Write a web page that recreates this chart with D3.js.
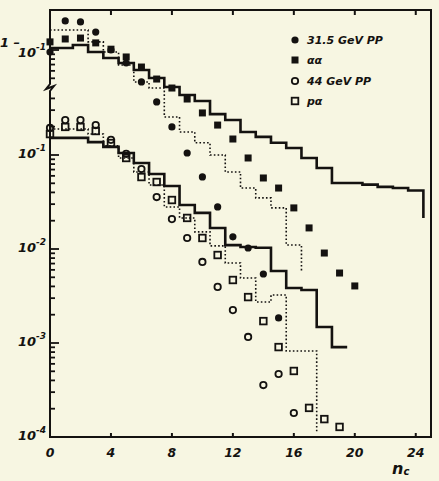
<!DOCTYPE html>
<html><head><meta charset="utf-8">
<script src="https://cdn.jsdelivr.net/npm/d3@7"></script>
<style>body{margin:0;background:#f7f6e2;} svg{display:block}</style>
</head><body><svg id="c" width="439" height="481"></svg>
<script>
// ---- data ----
const xTicks = [0, 4, 8, 12, 16, 20, 24];
const yTickExps = ["-1", "-2", "-3", "-4"];
const legendLabels = ["31.5 GeV PP", "αα", "44 GeV PP", "pα"];

// upper group (own log scale)
const pp315 = [0.095, 0.204, 0.199, 0.155, 0.100, 0.0727, 0.0457, 0.0280, 0.0152, 0.00802, 0.00446, 0.00214, 0.00103, 0.000783, 0.000414, 0.000141];
const aa = [0.122, 0.131, 0.134, 0.119, 0.102, 0.0843, 0.0659, 0.0491, 0.0394, 0.0301, 0.0214, 0.0159, 0.0113, 0.0071, 0.00435, 0.0034, 0.00209, 0.00128, 0.000692, 0.000424, 0.000309];
const upperSolid = [0.105, 0.105, 0.113, 0.0952, 0.0822, 0.0727, 0.0613, 0.0504, 0.0404, 0.0332, 0.0287, 0.0208, 0.018, 0.0134, 0.0119, 0.0103, 0.00906, 0.0071, 0.00556, 0.00385, 0.00385, 0.0037, 0.0035, 0.0034, 0.0032];
const upperSolidEnd = 0.00163;
const upperDotted = [0.163, 0.163, 0.163, 0.122, 0.0952, 0.0692, 0.0457, 0.0394, 0.0194, 0.0134, 0.0103, 0.00763, 0.00504, 0.0034, 0.00267, 0.00209, 0.000843];
const upperDottedEnd = 0.000435;

// lower group
const pp44 = [0.194, 0.235, 0.235, 0.208, 0.145, 0.103, 0.071, 0.0357, 0.0208, 0.0131, 0.00728, 0.00395, 0.00224, 0.00116, 0.000357, 0.000468, 0.00018];
const pa = [0.167, 0.199, 0.199, 0.180, 0.134, 0.0929, 0.0583, 0.0516, 0.0332, 0.0214, 0.0131, 0.00863, 0.00468, 0.00308, 0.00171, 0.000905, 0.000504, 0.000204, 0.000155, 0.000128];
const lowerSolid = [0.152, 0.152, 0.152, 0.137, 0.122, 0.105, 0.0822, 0.0628, 0.0468, 0.0294, 0.0242, 0.0167, 0.011, 0.0105, 0.0103, 0.00583, 0.00385, 0.00366, 0.00148, 0.000905];
const lowerSolidEnd = null;
const lowerDotted = [0.189, 0.189, 0.189, 0.167, 0.125, 0.0929, 0.0659, 0.048, 0.028, 0.0214, 0.0152, 0.0108, 0.0071, 0.00491, 0.00273, 0.00324, 0.000822, 0.000822];
const lowerDottedEnd = 0.000113;

// ---- layout ----
const ink = "#141210";
const bg = "#f7f6e2";
const svg = d3.select("#c");
const L = 50, R = 431, T = 10, B = 437;
const x = d3.scaleLinear().domain([0, 25]).range([L, R]);
const yLow = d3.scaleLog().domain([1e-4, 1]).range([B, B - 4 * 94]);
const yUp = d3.scaleLog().domain([1e-4, 1]).range([50 + 3 * 94, 50 - 94]);
const font = "'DejaVu Sans', sans-serif";

// frame
svg.append("rect").attr("x", L).attr("y", T).attr("width", R - L).attr("height", B - T)
  .attr("fill", "none").attr("stroke", ink).attr("stroke-width", 2);

// x ticks (bottom and top, inward)
xTicks.forEach(t => {
  if (t === 0) return;
  svg.append("line").attr("x1", x(t)).attr("x2", x(t)).attr("y1", B).attr("y2", B - 4)
    .attr("stroke", ink).attr("stroke-width", 2);
  svg.append("line").attr("x1", x(t)).attr("x2", x(t)).attr("y1", T).attr("y2", T + 5)
    .attr("stroke", ink).attr("stroke-width", 2);
});
svg.selectAll(".xl").data(xTicks).join("text")
  .attr("x", d => x(d)).attr("y", 457).attr("text-anchor", "middle")
  .attr("font-family", font).attr("font-weight", "bold").attr("font-style", "italic")
  .attr("font-size", 12.5).attr("fill", ink).text(d => d);

// x axis title
const xt = svg.append("text").attr("x", 392).attr("y", 474)
  .attr("font-family", font).attr("font-style", "italic").attr("font-weight", "bold")
  .attr("font-size", 16).attr("fill", ink).text("n");
xt.append("tspan").attr("font-size", 10).attr("dy", 1).text("c");

// y ticks, lower scale
const lowTicks = [];
for (let e = -4; e <= 0; e++) for (let m = 1; m <= 9; m++) {
  const v = m * Math.pow(10, e);
  if (yLow(v) <= B && yLow(v) >= 94) lowTicks.push([v, m === 1]);
}
lowTicks.forEach(([v, major]) => {
  if (v === 1e-4) return;
  svg.append("line").attr("x1", L).attr("x2", L + (major ? 9 : 5))
    .attr("y1", yLow(v)).attr("y2", yLow(v)).attr("stroke", ink).attr("stroke-width", 1.8);
});
// upper scale ticks (just below 10^-1)
const upTicks = [0.1, 0.09, 0.08, 0.07, 0.06, 0.05];
upTicks.forEach(v => {
  svg.append("line").attr("x1", L).attr("x2", L + (v === 0.1 ? 9 : 5))
    .attr("y1", yUp(v)).attr("y2", yUp(v)).attr("stroke", ink).attr("stroke-width", 1.8);
});

// axis break
svg.append("rect").attr("x", L - 2).attr("y", 82).attr("width", 4).attr("height", 10).attr("fill", bg);
svg.append("path").attr("d", `M${L},81 L${L},84 L${L - 4},89 L${L + 4},86 L${L},91 L${L},93`)
  .attr("fill", "none").attr("stroke", ink).attr("stroke-width", 2);

// y labels
function yLabel(yy, exp, xx) {
  const t = svg.append("text").attr("x", xx).attr("y", yy + 5)
    .attr("font-family", font).attr("font-style", "italic").attr("font-weight", "bold")
    .attr("font-size", 13).attr("fill", ink).text("10");
  t.append("tspan").attr("font-size", 9).attr("dy", -7).text(exp);
}
const lowDecades = [1e-1, 1e-2, 1e-3, 1e-4];
lowDecades.forEach((v, i) => yLabel(yLow(v) - 2, yTickExps[i], 18));
yLabel(yUp(0.1) + 2, "-1", 18);
svg.append("text").attr("x", 0).attr("y", 47).attr("font-family", font).attr("font-weight", "bold")
  .attr("font-style", "italic").attr("font-size", 13).attr("fill", ink).text("1 –");

// histogram helper
function stepPts(vals, end) {
  const pts = [[0, vals[0]]];
  for (let i = 1; i < vals.length; i++) pts.push([i - 0.5, vals[i]]);
  pts.push([vals.length - 0.5, end == null ? vals[vals.length - 1] : end]);
  return pts;
}
function hist(vals, end, ys, dotted) {
  const line = d3.line().x(d => x(d[0])).y(d => ys(d[1])).curve(d3.curveStepAfter);
  svg.append("path").attr("d", line(stepPts(vals, end)))
    .attr("fill", "none").attr("stroke", ink)
    .attr("stroke-width", dotted ? 1.6 : 2.6)
    .attr("stroke-dasharray", dotted ? "1.6,2.2" : null);
}
hist(upperDotted, upperDottedEnd, yUp, true);
hist(lowerDotted, lowerDottedEnd, yLow, true);
hist(upperSolid, upperSolidEnd, yUp, false);
hist(lowerSolid, lowerSolidEnd, yLow, false);

// markers
function marker(g, type, cx, cy) {
  const s = 7;
  if (type === "fc") g.append("circle").attr("cx", cx).attr("cy", cy).attr("r", 3.6).attr("fill", ink);
  if (type === "oc") g.append("circle").attr("cx", cx).attr("cy", cy).attr("r", 3.2).attr("fill", "none").attr("stroke", ink).attr("stroke-width", 1.8);
  if (type === "fs") g.append("rect").attr("x", cx - s / 2).attr("y", cy - s / 2).attr("width", s).attr("height", s).attr("fill", ink);
  if (type === "os") g.append("rect").attr("x", cx - 3.3).attr("y", cy - 3.3).attr("width", 6.6).attr("height", 6.6).attr("fill", "none").attr("stroke", ink).attr("stroke-width", 1.8);
}
const mg = svg.append("g");
pp315.forEach((v, i) => marker(mg, "fc", x(i), yUp(v)));
aa.forEach((v, i) => marker(mg, "fs", x(i), yUp(v)));
pp44.forEach((v, i) => marker(mg, "oc", x(i), yLow(v)));
pa.forEach((v, i) => marker(mg, "os", x(i), yLow(v)));

// legend
const lg = svg.append("g");
const types = ["fc", "fs", "oc", "os"];
const ly = [40, 60, 81, 101];
legendLabels.forEach((lab, i) => {
  marker(lg, types[i], 295, ly[i]);
  lg.append("text").attr("x", 307).attr("y", ly[i] + 4).attr("font-family", font)
    .attr("font-weight", "bold").attr("font-style", "italic").attr("font-size", 11)
    .attr("fill", ink).text(lab);
});
</script>
</body></html>
